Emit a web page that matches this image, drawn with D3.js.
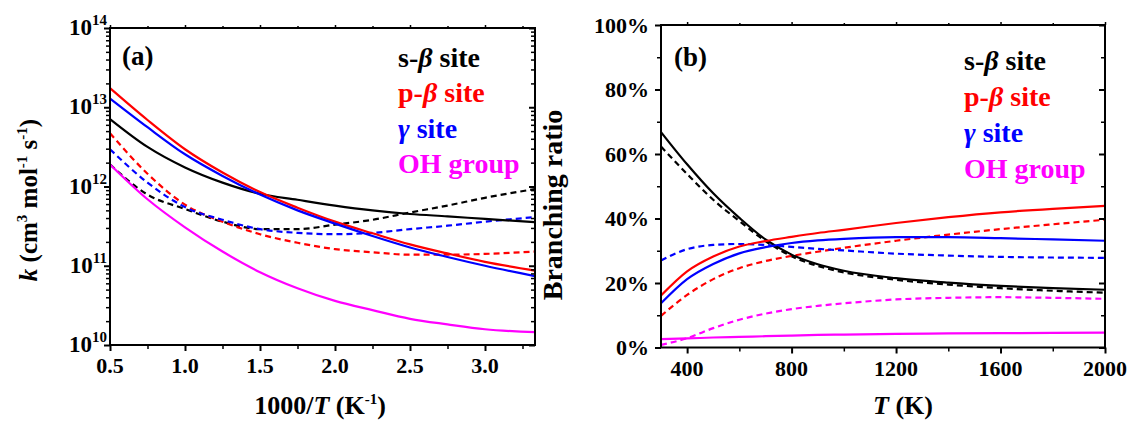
<!DOCTYPE html>
<html>
<head>
<meta charset="utf-8">
<script src="https://cdn.jsdelivr.net/npm/d3@7"></script>
<style>
  body { margin: 0; background: #fff; }
</style>
</head>
<body>
<svg id="chart" width="1129" height="421"></svg>
<script>

// Data, panel (a): rate constants vs 1000/T

const invT = [0.5, 0.75, 1.0, 1.25, 1.5, 1.75, 2.0, 2.25, 2.5, 2.75, 3.0, 3.333];

const kSBeta     = [7.1e12, 3.16e12, 1.74e12, 1.12e12, 8.1e11, 6.8e11, 5.75e11, 5.0e11, 4.5e11, 4.2e11, 3.9e11, 3.55e11];
const kPBeta     = [1.74e13, 6.9e12, 2.95e12, 1.5e12, 8.5e11, 5.4e11, 3.6e11, 2.57e11, 1.86e11, 1.43e11, 1.12e11, 8.7e10];
const kGamma     = [1.29e13, 5.6e12, 2.55e12, 1.36e12, 7.9e11, 5.0e11, 3.4e11, 2.37e11, 1.7e11, 1.29e11, 1.0e11, 7.4e10];
const kOH        = [1.9e12, 6.9e11, 3.05e11, 1.51e11, 8.3e10, 5.2e10, 3.6e10, 2.75e10, 2.14e10, 1.82e10, 1.58e10, 1.45e10];
const kSBetaDash = [1.9e12, 7.9e11, 5.2e11, 3.6e11, 2.9e11, 2.9e11, 3.3e11, 3.8e11, 4.7e11, 5.75e11, 7.2e11, 9.3e11];
const kPBetaDash = [4.7e12, 1.45e12, 5.9e11, 3.6e11, 2.5e11, 1.95e11, 1.62e11, 1.48e11, 1.38e11, 1.38e11, 1.41e11, 1.51e11];
const kGammaDash = [2.95e12, 1.12e12, 5.5e11, 3.8e11, 2.9e11, 2.6e11, 2.5e11, 2.6e11, 2.9e11, 3.2e11, 3.6e11, 4.1e11];

// Data, panel (b): branching ratios (%) vs T

const temps = [300, 400, 500, 600, 700, 800, 900, 1000, 1200, 1400, 1600, 1800, 2000];

const brSBeta     = [66.8, 56.8, 47.8, 40.2, 33.5, 28.8, 25.8, 23.8, 21.5, 20.1, 19.1, 18.4, 17.9];
const brPBeta     = [16.1, 23.6, 28.2, 31.3, 33.0, 34.3, 35.5, 36.5, 38.6, 40.4, 41.9, 43.0, 43.9];
const brGamma     = [13.7, 21.2, 25.9, 29.2, 31.1, 32.4, 33.2, 33.7, 34.2, 34.2, 33.9, 33.5, 33.1];
const brOH        = [2.6, 2.8, 3.1, 3.3, 3.5, 3.7, 3.9, 4.0, 4.2, 4.35, 4.45, 4.55, 4.6];
const brSBetaDash = [62.3, 53.8, 45.8, 39.2, 33.0, 28.3, 25.3, 23.3, 21.0, 19.5, 18.4, 17.6, 17.0];
const brPBetaDash = [9.8, 16.3, 21.2, 24.6, 26.8, 28.4, 29.7, 30.9, 33.1, 35.0, 36.7, 38.2, 39.6];
const brGammaDash = [27.0, 30.5, 31.8, 32.1, 31.8, 31.2, 30.6, 30.1, 29.1, 28.5, 28.1, 27.9, 27.8];
const brOHDash    = [0.8, 2.9, 6.0, 8.6, 10.5, 11.9, 12.9, 13.7, 14.9, 15.4, 15.6, 15.4, 15.1];

// Ticks and legend

const invTMajor = [0.5, 1.0, 1.5, 2.0, 2.5, 3.0];
const invTMinor = [0.75, 1.25, 1.75, 2.25, 2.75, 3.25];
const kDecades = [10, 11, 12, 13, 14];
const tMajor = [400, 800, 1200, 1600, 2000];
const tMinor = [600, 1000, 1400, 1800];
const pctMajor = [0, 20, 40, 60, 80, 100];
const pctMinor = [10, 30, 50, 70, 90];

const siteLabels = [
    { pre: "s-", greek: "\u03B2", post: " site" },
    { pre: "p-", greek: "\u03B2", post: " site" },
    { pre: "", greek: "\u03B3", post: " site" },
    { pre: "OH group", greek: "", post: "" }
];
const siteColors = ["#000000", "#ff0000", "#0000ff", "#ff00ff"];

const svg = d3.select("#chart");

// helpers

function label(parent, size) {
    return parent.append("text")
        .style("font-family", '"Liberation Serif"')
        .style("font-weight", "bold")
        .style("font-size", size + "px");
}

function sup(t, s, size) {
    t.append("tspan").attr("dy", -10).style("font-size", size + "px").text(s);
}

function tickSet(g, axis, values, size) {
    g.append("g")
        .call(axis.tickValues(values).tickSize(size).tickFormat(""))
        .call(s => s.select(".domain").remove())
        .call(s => s.selectAll("line").attr("stroke", "#000").attr("stroke-width", Math.abs(size) > 4 ? 2 : 1.5));
}

function frame(x0, x1, y0, y1) {
    svg.append("rect")
        .attr("x", x0).attr("y", y1)
        .attr("width", x1 - x0).attr("height", y0 - y1)
        .attr("fill", "none")
        .attr("stroke", "#000")
        .attr("stroke-width", 2);
}

function drawSeries(g, xs, ys, x, y, color, dashed) {
    const line = d3.line()
        .x((d, i) => x(xs[i]))
        .y(d => y(d))
        .curve(d3.curveMonotoneX);
    g.append("path")
        .datum(ys)
        .attr("fill", "none")
        .attr("stroke", color)
        .attr("stroke-width", 2.2)
        .attr("stroke-dasharray", dashed ? "6,4" : null)
        .attr("d", line);
}

function legend(x, y0, step) {
    siteLabels.forEach((d, i) => {
        const t = label(svg, 28)
            .attr("x", x).attr("y", y0 + i * step)
            .attr("fill", siteColors[i]);
        if (d.pre) t.append("tspan").text(d.pre);
        if (d.greek) t.append("tspan").style("font-style", "italic").text(d.greek);
        if (d.post) t.append("tspan").text(d.post);
    });
}

// Panel (a)

const xa = d3.scaleLinear().domain([0.5, 1000 / 300]).range([110, 535]);
const ya = d3.scaleLog().domain([1e10, 1e14]).range([345, 28]);

const ga = svg.append("g");

drawSeries(ga, invT, kSBetaDash, xa, ya, siteColors[0], true);
drawSeries(ga, invT, kPBetaDash, xa, ya, siteColors[1], true);
drawSeries(ga, invT, kGammaDash, xa, ya, siteColors[2], true);
drawSeries(ga, invT, kSBeta, xa, ya, siteColors[0], false);
drawSeries(ga, invT, kPBeta, xa, ya, siteColors[1], false);
drawSeries(ga, invT, kGamma, xa, ya, siteColors[2], false);
drawSeries(ga, invT, kOH, xa, ya, siteColors[3], false);

const kMajor = kDecades.map(e => Math.pow(10, e));
const kMinor = ya.ticks().filter(v => !kMajor.includes(v));

tickSet(ga.append("g").attr("transform", "translate(0,345)"), d3.axisBottom(xa), invTMajor, 6);
tickSet(ga.append("g").attr("transform", "translate(0,345)"), d3.axisBottom(xa), invTMinor, 4);
tickSet(ga.append("g").attr("transform", "translate(0,28)"), d3.axisTop(xa), invTMajor, 3);
tickSet(ga.append("g").attr("transform", "translate(0,28)"), d3.axisTop(xa), invTMinor, 2);
tickSet(ga.append("g").attr("transform", "translate(110,0)"), d3.axisLeft(ya), kMajor, 6);
tickSet(ga.append("g").attr("transform", "translate(110,0)"), d3.axisLeft(ya), kMinor, 4);
tickSet(ga.append("g").attr("transform", "translate(535,0)"), d3.axisRight(ya), kMajor, -6);
tickSet(ga.append("g").attr("transform", "translate(535,0)"), d3.axisRight(ya), kMinor, -4);

frame(110, 535, 345, 28);

invTMajor.forEach(v => {
    label(ga, 22)
        .attr("x", xa(v)).attr("y", 373)
        .attr("text-anchor", "middle")
        .text(v.toFixed(1));
});

kDecades.forEach(e => {
    const t = label(ga, 23)
        .attr("x", 107).attr("y", ya(Math.pow(10, e)) + 7)
        .attr("text-anchor", "end");
    t.append("tspan").text("10");
    sup(t, e, 15);
});

const xta = label(ga, 26)
    .attr("x", 320).attr("y", 414)
    .attr("text-anchor", "middle");
xta.append("tspan").text("1000/");
xta.append("tspan").style("font-style", "italic").text("T");
xta.append("tspan").text(" (K");
sup(xta, "-1", 15);
xta.append("tspan").attr("dy", 10).text(")");

const yta = label(ga, 25)
    .attr("transform", "translate(37,200) rotate(-90)")
    .attr("text-anchor", "middle");
yta.append("tspan").style("font-style", "italic").text("k");
yta.append("tspan").text(" (cm");
sup(yta, "3", 15);
yta.append("tspan").attr("dy", 10).text(" mol");
sup(yta, "-1", 15);
yta.append("tspan").attr("dy", 10).text(" s");
sup(yta, "-1", 15);
yta.append("tspan").attr("dy", 10).text(")");

label(ga, 27).attr("x", 122).attr("y", 65).text("(a)");
legend(398, 67, 35.3);

// Panel (b)

const xb = d3.scaleLinear().domain([300, 2000]).range([661, 1105]);
const yb = d3.scaleLinear().domain([0, 100]).range([347.5, 25]);

const gb = svg.append("g");

drawSeries(gb, temps, brSBetaDash, xb, yb, siteColors[0], true);
drawSeries(gb, temps, brPBetaDash, xb, yb, siteColors[1], true);
drawSeries(gb, temps, brGammaDash, xb, yb, siteColors[2], true);
drawSeries(gb, temps, brOHDash, xb, yb, siteColors[3], true);
drawSeries(gb, temps, brSBeta, xb, yb, siteColors[0], false);
drawSeries(gb, temps, brPBeta, xb, yb, siteColors[1], false);
drawSeries(gb, temps, brGamma, xb, yb, siteColors[2], false);
drawSeries(gb, temps, brOH, xb, yb, siteColors[3], false);

tickSet(gb.append("g").attr("transform", "translate(0,347.5)"), d3.axisBottom(xb), tMajor, 6);
tickSet(gb.append("g").attr("transform", "translate(0,347.5)"), d3.axisBottom(xb), tMinor, 4);
tickSet(gb.append("g").attr("transform", "translate(0,25)"), d3.axisTop(xb), tMajor, 3);
tickSet(gb.append("g").attr("transform", "translate(0,25)"), d3.axisTop(xb), tMinor, 2);
tickSet(gb.append("g").attr("transform", "translate(661,0)"), d3.axisLeft(yb), pctMajor, 6);
tickSet(gb.append("g").attr("transform", "translate(661,0)"), d3.axisLeft(yb), pctMinor, 4);
tickSet(gb.append("g").attr("transform", "translate(1105,0)"), d3.axisRight(yb), pctMajor, -6);
tickSet(gb.append("g").attr("transform", "translate(1105,0)"), d3.axisRight(yb), pctMinor, -4);

frame(661, 1105, 347.5, 25);

tMajor.forEach(v => {
    label(gb, 22)
        .attr("x", xb(v)).attr("y", 376)
        .attr("text-anchor", "middle")
        .text(v);
});

pctMajor.forEach(v => {
    label(gb, 22)
        .attr("x", 649).attr("y", yb(v) + 7.5)
        .attr("text-anchor", "end")
        .text(v + "%");
});

const xtb = label(gb, 26)
    .attr("x", 903).attr("y", 414)
    .attr("text-anchor", "middle");
xtb.append("tspan").style("font-style", "italic").text("T");
xtb.append("tspan").text(" (K)");

label(gb, 28)
    .attr("transform", "translate(562,205) rotate(-90)")
    .attr("text-anchor", "middle")
    .text("Branching ratio");

label(gb, 27).attr("x", 674).attr("y", 66).text("(b)");
legend(964, 70, 36);

</script>
</body>
</html>
